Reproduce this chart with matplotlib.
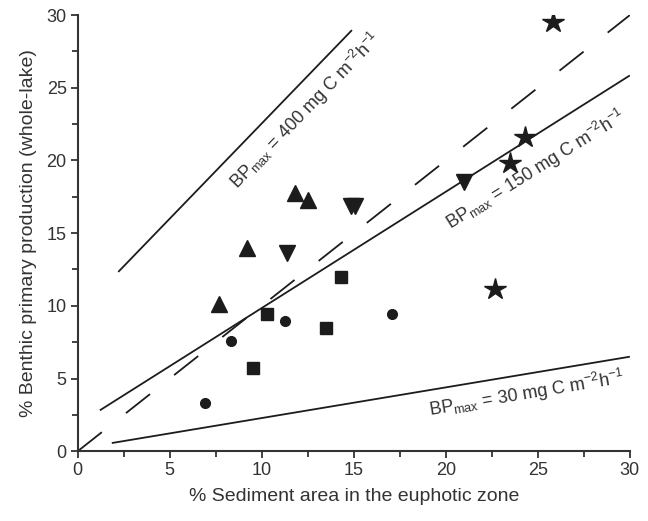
import matplotlib
matplotlib.use("Agg")
import matplotlib.pyplot as plt
import numpy as np
from matplotlib.ticker import MultipleLocator

plt.rcParams['font.family'] = ['Liberation Sans', 'DejaVu Sans']
plt.rcParams['mathtext.fontset'] = 'custom'
plt.rcParams['mathtext.rm'] = 'Liberation Sans'
plt.rcParams['mathtext.it'] = 'Liberation Sans'

INK = '#1c1c1c'

# lake groups (sediment area %, benthic share %)
circle_x = [6.9, 8.3, 11.25, 17.1]
circle_y = [3.3, 7.6, 8.95, 9.45]
square_x = [9.5, 10.3, 13.5, 14.3]
square_y = [5.7, 9.45, 8.45, 12.0]
tri_up_x = [7.7, 9.2, 11.8, 12.5]
tri_up_y = [10.1, 13.95, 17.75, 17.25]
tri_down_x = [11.35, 14.85, 15.05, 21.0]
tri_down_y = [13.65, 16.9, 16.9, 18.5]
star_x = [25.8, 23.5, 24.3, 22.65]
star_y = [29.5, 19.8, 21.6, 11.15]

# BPmax reference lines: (x start, x end, intercept, slope)
line_400 = (2.2, 14.9, 9.45, 1.31)
line_150 = (1.2, 30.0, 1.85, 0.80)
line_30 = (1.85, 30.0, 0.17, 0.211)
one_to_one = (0.0, 30.0, 0.0, 1.0)

fig = plt.figure(figsize=(6.48, 5.21), dpi=100)
ax = fig.add_axes([0.120, 0.134, 0.852, 0.837])


def ref_line(spec, **kw):
    x0, x1, b, m = spec
    xs = np.array([x0, x1])
    ax.plot(xs, b + m * xs, color=INK, lw=1.3, solid_capstyle='butt', **kw)


ref_line(line_400)
ref_line(line_150)
ref_line(line_30)
ref_line(one_to_one, dashes=(17, 17))

ax.plot(circle_x, circle_y, 'o', ms=7, color=INK, mec=INK, ls='none')
ax.plot(square_x, square_y, 's', ms=9, color=INK, mec=INK, ls='none')
ax.plot(tri_up_x, tri_up_y, '^', ms=11.5, color=INK, mec=INK, ls='none')
ax.plot(tri_down_x, tri_down_y, 'v', ms=11.5, color=INK, mec=INK, ls='none')
ax.plot(star_x, star_y, '*', ms=16, color=INK, mec=INK, ls='none')

lbl = dict(color='#333333', fontsize=13, ha='center', va='center',
           rotation_mode='anchor')
ax.text(12.4, 23.4, r'BP$_{\mathrm{max}}$ = 400 mg C m$^{-2}$h$^{-1}$',
        rotation=46, **lbl)
ax.text(24.9, 19.4, r'BP$_{\mathrm{max}}$ = 150 mg C m$^{-2}$h$^{-1}$',
        rotation=32, **lbl)
ax.text(24.4, 3.95, r'BP$_{\mathrm{max}}$ = 30 mg C m$^{-2}$h$^{-1}$',
        rotation=9.5, **lbl)

ax.set_xlim(0, 30)
ax.set_ylim(0, 30)
ax.xaxis.set_major_locator(MultipleLocator(5))
ax.yaxis.set_major_locator(MultipleLocator(5))
ax.xaxis.set_minor_locator(MultipleLocator(2.5))
ax.yaxis.set_minor_locator(MultipleLocator(2.5))
ax.tick_params(which='major', length=5, width=1.3, colors='#333333',
               labelsize=13, pad=3)
ax.tick_params(which='minor', length=4, width=1.3, colors='#333333')

for side in ('top', 'right'):
    ax.spines[side].set_visible(False)
for side in ('left', 'bottom'):
    ax.spines[side].set_linewidth(1.5)
    ax.spines[side].set_color('#333333')

ax.set_xlabel('% Sediment area in the euphotic zone', fontsize=14,
              color='#333333', labelpad=6)
ax.set_ylabel('% Benthic primary production (whole-lake)', fontsize=14,
              color='#333333', labelpad=7)

fig.savefig('out.png', dpi=100)
